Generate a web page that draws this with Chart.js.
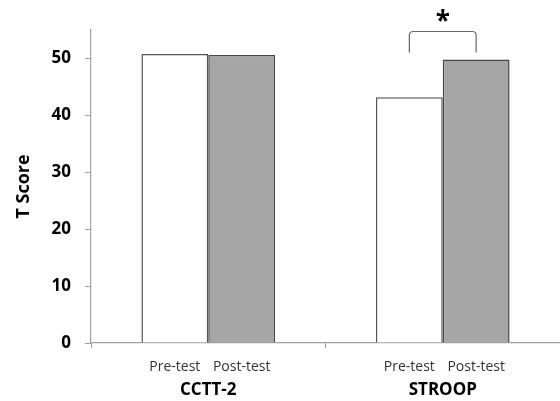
<!DOCTYPE html>
<html>
<head>
<meta charset="utf-8">
<script src="https://cdn.jsdelivr.net/npm/chart.js@4.4.1/dist/chart.umd.min.js"></script>
<style>
html,body{margin:0;padding:0;background:#fff;}
#wrap{width:560px;height:401px;position:relative;}
</style>
</head>
<body>
<div id="wrap"><canvas id="c" width="560" height="401"></canvas></div>
<script>
const categories = ['CCTT-2', 'STROOP'];
const seriesNames = ['Pre-test', 'Post-test'];
const preTest = [50.8, 43.2];
const postTest = [50.6, 49.8];
const yTicks = [0, 10, 20, 30, 40, 50];
const yMax = 55;
const yTitle = 'T Score';
const significance = [{category: 1, label: '*'}];

const FONT = '"Open Sans", "Noto Sans", sans-serif';

const annotate = {
  id: 'annotate',
  afterDatasetsDraw(chart) {
    const ctx = chart.ctx;
    const m0 = chart.getDatasetMeta(0), m1 = chart.getDatasetMeta(1);
    const y = chart.scales.y;
    ctx.save();
    ctx.fillStyle = '#333';
    ctx.font = '14px ' + FONT;
    ctx.textAlign = 'center';
    ctx.textBaseline = 'middle';
    const bottom = chart.chartArea.bottom;
    [m0, m1].forEach((m, i) => {
      m.data.forEach(bar => {
        ctx.fillText(seriesNames[i], bar.x, bottom + 24);
      });
    });
    significance.forEach(s => {
      const a = m0.data[s.category], b = m1.data[s.category];
      const x1 = a.x, x2 = b.x;
      const top = y.getPixelForValue(yMax) + 1.5;
      const end = Math.min(a.y, b.y) - 7;
      const r = 4;
      ctx.strokeStyle = '#666';
      ctx.lineWidth = 1.2;
      ctx.beginPath();
      ctx.moveTo(x1, end);
      ctx.lineTo(x1, top + r);
      ctx.quadraticCurveTo(x1, top, x1 + r, top);
      ctx.lineTo(x2 - r, top);
      ctx.quadraticCurveTo(x2, top, x2, top + r);
      ctx.lineTo(x2, end);
      ctx.stroke();
      ctx.fillStyle = '#000';
      ctx.font = 'bold 26px ' + FONT;
      ctx.textBaseline = 'middle';
      ctx.fillText(s.label, (x1 + x2) / 2, top - 9);
    });
    ctx.restore();
  }
};

new Chart(document.getElementById('c'), {
  type: 'bar',
  data: {
    labels: categories,
    datasets: [
      {label: seriesNames[0], data: preTest, backgroundColor: '#ffffff', borderColor: '#555555', borderWidth: 1.5,
       categoryPercentage: 0.57, barPercentage: 1.0},
      {label: seriesNames[1], data: postTest, backgroundColor: '#a6a6a6', borderColor: '#444444', borderWidth: 1.5,
       categoryPercentage: 0.57, barPercentage: 1.0}
    ]
  },
  options: {
    responsive: false,
    animation: false,
    devicePixelRatio: 1,
    layout: {padding: {top: 30, right: 0, left: 0, bottom: 0}},
    plugins: {legend: {display: false}, tooltip: {enabled: false}},
    scales: {
      x: {
        grid: {offset: true, drawOnChartArea: false, tickLength: 5, color: '#999999'},
        border: {color: '#a0a0a0', width: 1.2},
        ticks: {color: '#000', font: {family: FONT, size: 17, weight: 'bold'}, padding: 32},
        afterFit(scale) { scale.height = 58; }
      },
      y: {
        min: 0, max: yMax,
        afterBuildTicks(scale) { scale.ticks = yTicks.map(v => ({value: v})); },
        grid: {drawOnChartArea: false, tickLength: 6, color: '#a0a0a0'},
        border: {color: '#a0a0a0', width: 1.2},
        ticks: {color: '#000', font: {family: FONT, size: 17, weight: 'bold'}, padding: 14},
        title: {display: true, text: yTitle, color: '#000', font: {family: FONT, size: 18, weight: 'bold'}, padding: {top: 13, bottom: 0}},
        afterFit(scale) { scale.width = 91; }
      }
    }
  },
  plugins: [annotate]
});
</script>
</body>
</html>
